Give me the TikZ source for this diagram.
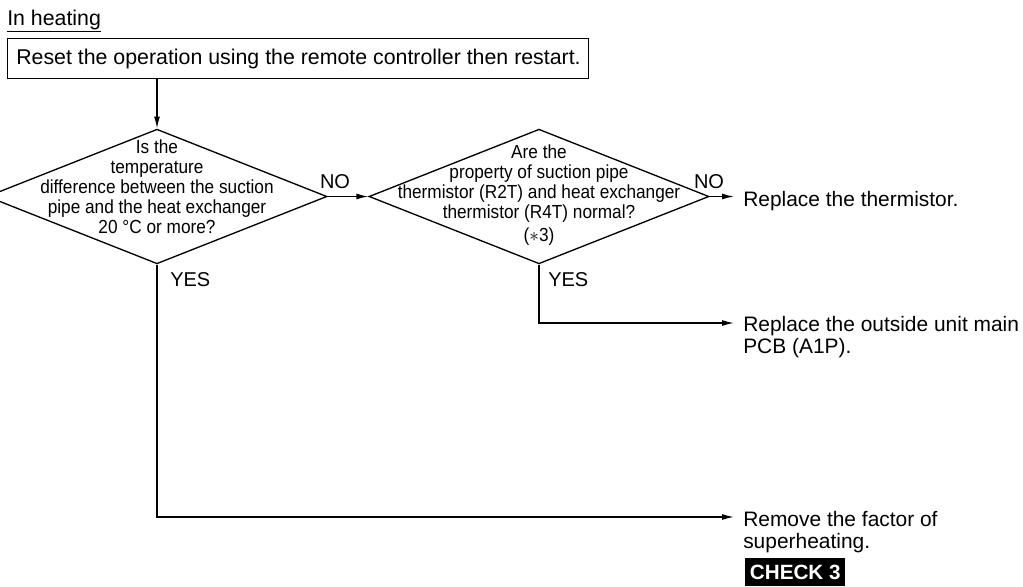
\documentclass[tikz,border=0pt]{standalone}
\usepackage{fontspec}
\setmainfont{Liberation Sans}
\newfontfamily\condfont[FakeStretch=0.91]{Liberation Sans}
\usetikzlibrary{shapes.geometric,arrows.meta}
\tikzset{
  flow/.style={line width=1pt,-{Latex[length=9pt,width=4.5pt]}},
  dia/.style={diamond,draw,line width=1pt,minimum width=255pt,minimum height=101pt,inner sep=0pt},
  dtext/.style={align=center,anchor=north,font=\condfont\fontsize{14.2}{15}\selectfont,inner sep=0pt},
  lbl/.style={font=\fontsize{15}{17}\selectfont,inner sep=0pt},
  big/.style={font=\fontsize{16}{16.5}\selectfont,inner sep=0pt},
  res/.style={font=\fontsize{15.7}{16.5}\selectfont,inner sep=0pt,align=left,anchor=north west},
}
\begin{document}
\begin{tikzpicture}[x=0.75pt,y=-0.75pt]
\useasboundingbox (0,0) rectangle (1023,586);
\node[big,anchor=base west] (title) at (7,25) {\underline{In heating}};
\node[draw,line width=1pt,anchor=north west,minimum width=435.75pt,minimum height=30pt,inner sep=0pt] (reset) at (7,38) {};
\node[big,anchor=base west] (resett) at (16,64.5) {Reset the operation using the remote controller then restart.};
\node[dia] (d1) at (157,196.5) {};
\node[dtext] (d1t) at (157,140) {Is the\\temperature\\difference between the suction\\pipe and the heat exchanger\\20 °C or more?};
\node[dia] (d2) at (539,196.5) {};
\node[dtext] (d2t) at (539,145) {Are the\\property of suction pipe\\thermistor (R2T) and heat exchanger\\thermistor (R4T) normal?\\[2pt](${\ast}$3)};
\coordinate (c1) at (157,78);
\draw[flow] (c1) -- (d1.north);
\draw[flow] (d1.east) -- (d2.west);
\node[lbl,anchor=base] (no1) at (335,188) {NO};
\node[lbl,anchor=base] (no2) at (709,188) {NO};
\node[lbl,anchor=base west] (yes1) at (170,286) {YES};
\node[lbl,anchor=base west] (yes2) at (548,286) {YES};
\node[res,anchor=base west] (r1) at (743,206) {Replace the thermistor.};
\node[res] (r2) at (743,316.5) {Replace the outside unit main\\PCB (A1P).};
\node[res] (r3) at (743,511.5) {Remove the factor of\\superheating.};
\node[fill=black,text=white,font=\bfseries\fontsize{15.5}{16}\selectfont,anchor=north west,inner sep=0pt,minimum width=75pt,minimum height=21pt] (chk) at (745,558) {CHECK 3};
\coordinate (e1) at (734,196.5);
\draw[flow] (d2.east) -- (e1);
\coordinate (k2) at (539,323);
\coordinate (e2) at (734,323);
\draw[flow] (d2.south) -- (k2) -- (e2);
\coordinate (k1) at (157,517);
\coordinate (e3) at (734,517);
\draw[flow] (d1.south) -- (k1) -- (e3);
\end{tikzpicture}
\end{document}
